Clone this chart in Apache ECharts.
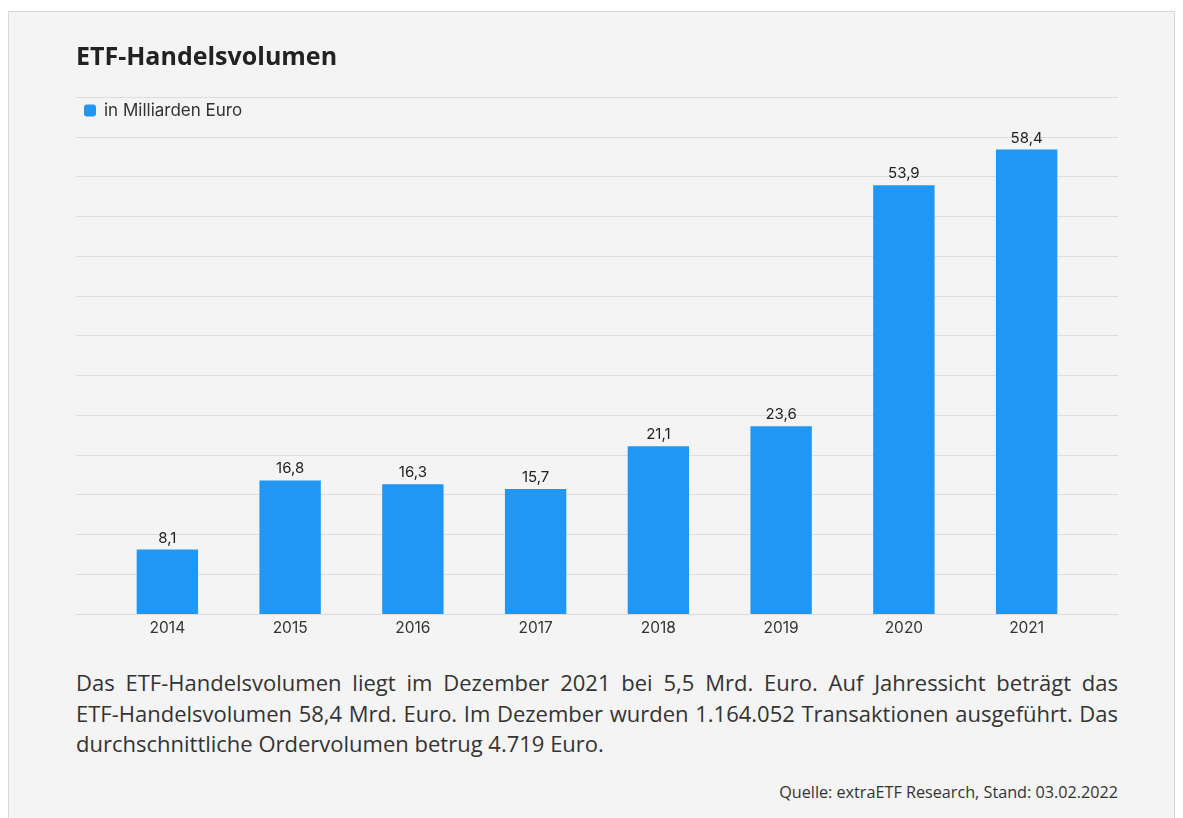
<!DOCTYPE html>
<html>
<head>
  <meta charset="utf-8">
  <title>ETF-Handelsvolumen</title>
  <script src="https://cdn.jsdelivr.net/npm/echarts@6/dist/echarts.min.js"></script>
  <style>
    body { margin: 0; background: #fff; font-family: "Open Sans", sans-serif; }
    #box {
      position: absolute; left: 8px; top: 11px; width: 1165px; height: 820px;
      background: #f4f4f4; border: 1px solid #d8d8d8; border-bottom: none;
    }
    #main { position: absolute; left: 0; top: 0; width: 1183px; height: 650px; }
    #text {
      position: absolute; left: 76px; top: 667px; width: 1042px;
      font-size: 22px; line-height: 30.5px; color: #333; text-align: justify;
    }
    #text span { white-space: nowrap; }
    #src {
      position: absolute; right: 65px; top: 781px;
      font-size: 16.2px; color: #333;
    }
  </style>
</head>
<body>
  <div id="box"></div>
  <div id="main"></div>
  <div id="text">Das <span>ETF-Handelsvolumen</span> liegt im Dezember 2021 bei 5,5 Mrd. Euro. Auf Jahressicht beträgt das <span>ETF-Handelsvolumen</span> 58,4 Mrd. Euro. Im Dezember wurden 1.164.052 Transaktionen ausgeführt. Das durchschnittliche Ordervolumen betrug 4.719 Euro.</div>
  <div id="src">Quelle: extraETF Research, Stand: 03.02.2022</div>

  <script>
    const years = ["2014", "2015", "2016", "2017", "2018", "2019", "2020", "2021"];
    const volumen = [8.1, 16.8, 16.3, 15.7, 21.1, 23.6, 53.9, 58.4];

    const chart = echarts.init(document.getElementById("main"));
    chart.setOption({
      animation: false,
      title: {
        text: "ETF-Handelsvolumen",
        left: 71, top: 40,
        textStyle: { fontFamily: "Open Sans", fontWeight: "bold", fontSize: 25, color: "#222" }
      },
      legend: {
        left: 84, top: 102, padding: 0,
        icon: "roundRect", itemWidth: 12, itemHeight: 12, itemGap: 6,
        textStyle: { fontFamily: "Inter", fontSize: 17, color: "#333", padding: [0, 0, 0, 3] },
        data: ["in Milliarden Euro"]
      },
      // grid 0: full-width gridlines and baseline, grid 1: the bars
      grid: [
        { left: 76, right: 65, top: 97, bottom: 36 },
        { left: 106, right: 95, top: 97, bottom: 36 }
      ],
      xAxis: [
        {
          gridIndex: 0, type: "category", data: [""],
          axisLine: { lineStyle: { color: "#dcdcdc" } },
          axisTick: { show: false }, axisLabel: { show: false }
        },
        {
          gridIndex: 1, type: "category", data: years,
          axisLine: { show: false },
          axisTick: { show: false },
          axisLabel: { fontFamily: "Inter", fontSize: 15.5, color: "#333", margin: 6 }
        }
      ],
      yAxis: [
        {
          gridIndex: 0, type: "value", min: 0, max: 65, interval: 5,
          axisLabel: { show: false },
          splitLine: { lineStyle: { color: "#dedede" } }
        },
        {
          gridIndex: 1, type: "value", min: 0, max: 65, interval: 5,
          axisLabel: { show: false }, splitLine: { show: false }
        }
      ],
      series: [{
        name: "in Milliarden Euro",
        type: "bar",
        xAxisIndex: 1, yAxisIndex: 1,
        data: volumen,
        barWidth: "50%",
        itemStyle: { color: "#2196f3" },
        label: {
          show: true, position: "top", distance: 4,
          fontFamily: "Inter", fontSize: 15, color: "#222",
          formatter: p => p.value.toFixed(1).replace(".", ",")
        }
      }]
    });
  </script>
</body>
</html>
